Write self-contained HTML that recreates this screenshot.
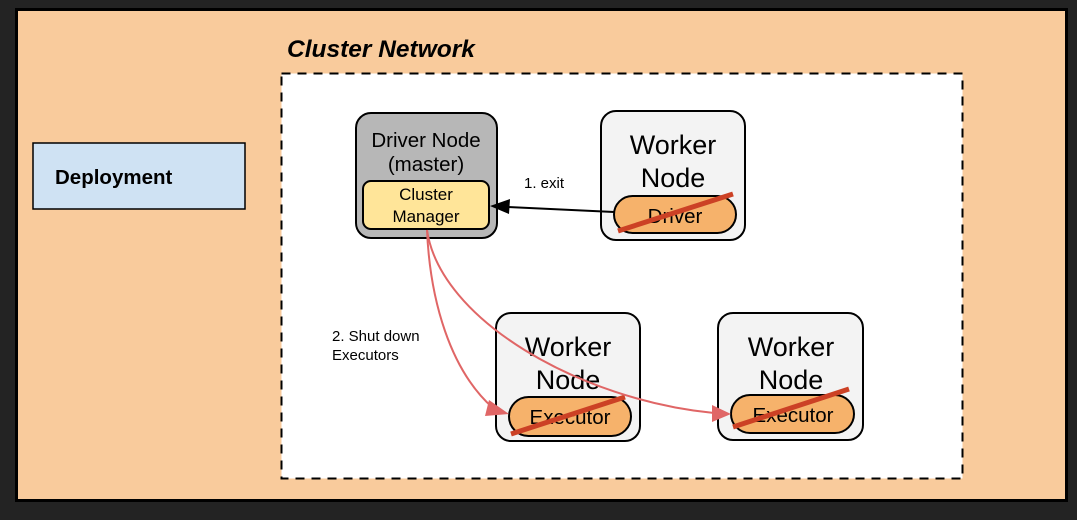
<!DOCTYPE html>
<html><head><style>
body{margin:0;width:1077px;height:515px;background:#232323;overflow:hidden;font-family:"Liberation Sans",sans-serif}
</style></head><body>
<svg width="1077" height="515" xmlns="http://www.w3.org/2000/svg" font-family="Liberation Sans, sans-serif">
<rect x="16.5" y="9.5" width="1050" height="491" fill="#f9cb9c" stroke="#000" stroke-width="3"/>
<text x="287" y="57" font-size="24.5" font-weight="bold" font-style="italic">Cluster Network</text>
<rect x="281.5" y="73.5" width="681" height="405" fill="#fff" stroke="#000" stroke-width="2" stroke-dasharray="9,7"/>
<rect x="33" y="143" width="212" height="66" fill="#cfe2f3" stroke="#000" stroke-width="1.5"/>
<text x="55" y="184" font-size="20.5" font-weight="bold">Deployment</text>
<rect x="356" y="113" width="141" height="125" rx="15" fill="#b7b7b7" stroke="#000" stroke-width="2"/>
<text x="426" y="147" font-size="20.5" text-anchor="middle">Driver Node</text>
<text x="426" y="171" font-size="20.5" text-anchor="middle">(master)</text>
<rect x="363" y="181" width="126" height="48" rx="8" fill="#ffe599" stroke="#000" stroke-width="2"/>
<text x="426" y="200" font-size="17" text-anchor="middle">Cluster</text>
<text x="426" y="222" font-size="17" text-anchor="middle">Manager</text>
<rect x="601" y="111" width="144" height="129" rx="15" fill="#f3f3f3" stroke="#000" stroke-width="2"/>
<text x="673" y="154" font-size="27" text-anchor="middle">Worker</text>
<text x="673" y="187" font-size="27" text-anchor="middle">Node</text>
<rect x="614" y="196" width="122" height="37" rx="18.5" fill="#f6b26b" stroke="#000" stroke-width="2"/>
<text x="675" y="223" font-size="20.5" text-anchor="middle">Driver</text>
<line x1="618" y1="231" x2="733" y2="194" stroke="#cc4125" stroke-width="5"/>
<rect x="496" y="313" width="144" height="128" rx="15" fill="#f3f3f3" stroke="#000" stroke-width="2"/>
<text x="568" y="356" font-size="27" text-anchor="middle">Worker</text>
<text x="568" y="389" font-size="27" text-anchor="middle">Node</text>
<rect x="509" y="397" width="122" height="39" rx="19.5" fill="#f6b26b" stroke="#000" stroke-width="2"/>
<text x="570" y="424" font-size="20.5" text-anchor="middle">Executor</text>
<line x1="511" y1="434" x2="625" y2="397" stroke="#cc4125" stroke-width="5"/>
<rect x="718" y="313" width="145" height="127" rx="15" fill="#f3f3f3" stroke="#000" stroke-width="2"/>
<text x="791" y="356" font-size="27" text-anchor="middle">Worker</text>
<text x="791" y="389" font-size="27" text-anchor="middle">Node</text>
<rect x="731" y="395" width="123" height="38" rx="19" fill="#f6b26b" stroke="#000" stroke-width="2"/>
<text x="793" y="422" font-size="20.5" text-anchor="middle">Executor</text>
<line x1="733" y1="427" x2="849" y2="389" stroke="#cc4125" stroke-width="5"/>
<line x1="614" y1="212" x2="507" y2="207" stroke="#000" stroke-width="2"/>
<polygon points="490,206 510,199 509,214" fill="#000"/>
<text x="524" y="188" font-size="15">1. exit</text>
<path d="M427,230 C430,300 450,370 493,408" fill="none" stroke="#e06666" stroke-width="2"/>
<polygon points="509,414 489,400 485,416" fill="#e06666"/>
<path d="M427,230 C440,320 580,400 714,413" fill="none" stroke="#e06666" stroke-width="2"/>
<polygon points="731,414 712,405 712,422" fill="#e06666"/>
<text x="332" y="341" font-size="15">2. Shut down</text>
<text x="332" y="360" font-size="15">Executors</text>
</svg>
</body></html>
